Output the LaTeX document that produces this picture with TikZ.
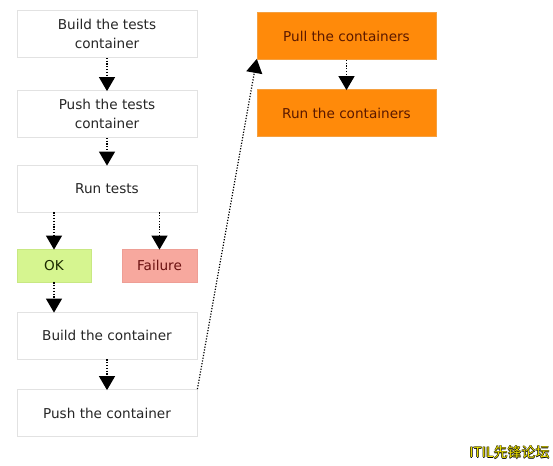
\documentclass[tikz,border=0pt]{standalone}
\usepackage{fontspec}
\setmainfont{DejaVu Sans}
\newfontfamily\cjk{Noto Sans CJK SC}
\usetikzlibrary{arrows.meta}
\definecolor{boxline}{HTML}{E2E2E2}
\definecolor{okfill}{HTML}{D6F590}
\definecolor{okline}{HTML}{C8E883}
\definecolor{failfill}{HTML}{F7A89E}
\definecolor{failline}{HTML}{EE9E95}
\definecolor{orfill}{HTML}{FF8A0A}
\definecolor{orline}{HTML}{F5A040}
\definecolor{ortext}{HTML}{5A1800}
\definecolor{failtext}{HTML}{6A1010}
\definecolor{oktext}{HTML}{1C2A00}
\definecolor{wmyellow}{HTML}{F2E600}
\begin{document}
\begin{tikzpicture}[x=1pt,y=-1pt,
  base/.style={draw, line width=0.8pt, minimum width=180pt, minimum height=47pt,
    align=center, inner sep=0pt, font=\fontsize{13.6}{18.5}\selectfont, text=black!85},
  whitebox/.style={base, draw=boxline, fill=white},
  okbox/.style={base, draw=okline, fill=okfill, minimum width=74pt, minimum height=33pt, text=oktext},
  failbox/.style={base, draw=failline, fill=failfill, minimum width=75pt, minimum height=33pt, text=failtext},
  orbox/.style={base, draw=orline, fill=orfill, minimum width=179pt, minimum height=47pt, text=ortext},
  flow/.style={line width=1.2pt, dash pattern=on 1.2pt off 1.6pt,
    -{Triangle[width=16pt,length=14pt]}, shorten >=-1pt},
  wm/.style={font=\cjk\fontsize{14}{16}\selectfont, inner sep=0pt}
]
\useasboundingbox (0,0) rectangle (553,465);
\fill[white] (0,0) rectangle (553,465);

\node[whitebox] (b1) at (107,34) {Build the tests\\container};
\node[whitebox] (b2) at (107,114) {Push the tests\\container};
\node[whitebox] (b3) at (107,188.5) {Run tests};
\node[okbox] (ok) at (54,265.5) {OK};
\node[failbox] (fail) at (159.5,265.5) {Failure};
\node[whitebox] (b4) at (107,335.5) {Build the container};
\node[whitebox] (b5) at (107,413) {Push the container};
\node[orbox] (p1) at (346.5,36) {Pull the containers};
\node[orbox] (p2) at (346.5,113) {Run the containers};

\draw[flow] (b1.south) -- (b2.north);
\draw[flow] (b2.south) -- (b3.north);
\draw[flow] (b3.south -| ok.north) -- (ok.north);
\draw[flow] (b3.south -| fail.north) -- (fail.north);
\draw[flow] (ok.south) -- (ok.south |- b4.north);
\draw[flow] (b4.south) -- (b5.north);
\draw[flow] (b5.north east) -- (p1.south west);
\draw[flow] (p1.south) -- (p2.north);

\node[wm, text=black] (w1) at (510.1,452.6) {ITIL先锋论坛};
\node[wm, text=black] (w2) at (508.9,452.4) {ITIL先锋论坛};
\node[wm, text=black] (w3) at (509.5,453.2) {ITIL先锋论坛};
\node[wm, text=black] (w4) at (509.5,451.8) {ITIL先锋论坛};
\node[wm, text=wmyellow] (w0) at (509.5,452.5) {ITIL先锋论坛};
\end{tikzpicture}
\end{document}
